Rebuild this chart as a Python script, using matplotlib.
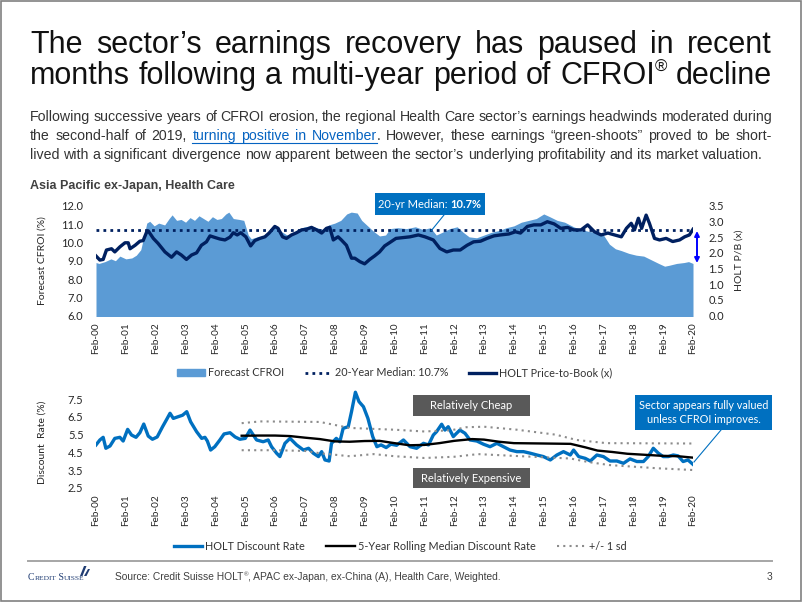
import numpy as np
import matplotlib
matplotlib.use('Agg')
import matplotlib.pyplot as plt
from matplotlib import font_manager
from matplotlib.lines import Line2D
from matplotlib.patches import Patch, Rectangle, Polygon

# x values are years since Feb-2000
tick_labels = ['Feb-00', 'Feb-01', 'Feb-02', 'Feb-03', 'Feb-04', 'Feb-05', 'Feb-06',
               'Feb-07', 'Feb-08', 'Feb-09', 'Feb-10', 'Feb-11', 'Feb-12', 'Feb-13',
               'Feb-14', 'Feb-15', 'Feb-16', 'Feb-17', 'Feb-18', 'Feb-19', 'Feb-20']

cfroi_years = [0.0, 0.1, 0.3, 0.5, 0.65, 0.8, 1.0, 1.2, 1.35, 1.5, 1.6, 1.7, 1.8, 1.95,
               2.1, 2.3, 2.45, 2.55, 2.7, 2.85, 3.0, 3.15, 3.3, 3.45, 3.6, 3.75, 3.9,
               4.05, 4.2, 4.35, 4.45, 4.6, 4.8, 4.95, 5.1, 5.2, 5.4, 5.6, 5.8, 6.0,
               6.2, 6.4, 6.6, 6.8, 7.0, 7.2, 7.4, 7.6, 7.8, 8.0, 8.2, 8.4, 8.55, 8.75,
               8.9, 9.1, 9.3, 9.5, 9.7, 9.85, 10.1, 10.4, 10.7, 10.95, 11.2, 11.4,
               11.6, 11.85, 12.1, 12.3, 12.5, 12.75, 13.0, 13.25, 13.5, 13.75, 14.0,
               14.25, 14.5, 14.75, 15.0, 15.2, 15.45, 15.7, 16.0, 16.25, 16.5, 16.75,
               17.0, 17.2, 17.4, 17.6, 17.85, 18.1, 18.35, 18.6, 18.85, 19.05, 19.2,
               19.45, 19.7, 19.85, 20.0]
cfroi_values = [8.9, 8.85, 8.95, 9.1, 9.0, 9.25, 9.1, 9.15, 9.3, 9.6, 10.3, 11.05, 11.15,
                10.9, 11.05, 10.95, 11.3, 11.5, 11.2, 11.25, 11.1, 11.35, 11.2, 11.45,
                11.3, 11.15, 11.4, 11.25, 11.3, 11.55, 11.65, 11.3, 11.25, 11.2, 10.4,
                10.2, 10.3, 10.35, 10.55, 10.9, 10.6, 10.4, 10.5, 10.75, 10.85, 10.9,
                10.8, 10.7, 10.95, 11.05, 11.2, 11.55, 11.65, 11.6, 11.2, 10.9, 10.6,
                10.35, 10.4, 10.75, 10.8, 10.75, 10.85, 10.7, 10.8, 10.4, 10.55, 10.75,
                10.85, 10.55, 10.3, 10.25, 10.4, 10.55, 10.65, 10.8, 10.9, 11.1, 11.2,
                11.3, 11.55, 11.4, 11.2, 11.1, 10.85, 10.7, 10.6, 10.55, 10.4, 9.9,
                9.65, 9.55, 9.4, 9.3, 9.25, 9.05, 8.85, 8.7, 8.75, 8.85, 8.9, 8.95, 8.85]

pb_years = [0.0, 0.13, 0.24, 0.35, 0.52, 0.63, 0.8, 0.97, 1.08, 1.14, 1.31, 1.47, 1.58,
            1.7, 1.75, 1.92, 2.08, 2.31, 2.53, 2.7, 2.86, 3.03, 3.2, 3.37, 3.53, 3.7,
            3.82, 3.98, 4.15, 4.32, 4.49, 4.6, 4.73, 4.85, 5.02, 5.18, 5.32, 5.49,
            5.66, 5.8, 5.99, 6.1, 6.25, 6.38, 6.55, 6.72, 6.89, 7.05, 7.22, 7.39,
            7.56, 7.72, 7.83, 7.95, 8.11, 8.22, 8.39, 8.56, 8.67, 8.84, 9.0, 9.17,
            9.33, 9.5, 9.67, 9.83, 10.05, 10.52, 10.8, 11.02, 11.3, 11.52, 11.75,
            11.97, 12.2, 12.43, 12.65, 12.88, 13.1, 13.33, 13.55, 13.83, 14.05, 14.22,
            14.45, 14.67, 14.9, 15.12, 15.35, 15.57, 15.8, 16.0, 16.25, 16.47, 16.7,
            16.92, 17.15, 17.37, 17.6, 17.77, 17.93, 18.04, 18.17, 18.28, 18.43,
            18.54, 18.71, 18.88, 19.1, 19.32, 19.55, 19.72, 19.88, 20.0]
pb_values = [1.90, 1.77, 1.79, 2.09, 2.13, 2.03, 2.19, 2.32, 2.32, 2.13, 2.24, 2.37, 2.39,
             2.67, 2.70, 2.46, 2.30, 2.03, 1.86, 2.03, 1.93, 1.79, 1.93, 2.00, 2.24, 2.35,
             2.54, 2.49, 2.44, 2.41, 2.50, 2.64, 2.57, 2.64, 2.51, 2.22, 2.39, 2.46,
             2.51, 2.63, 2.84, 2.78, 2.51, 2.46, 2.57, 2.64, 2.73, 2.75, 2.81, 2.73,
             2.63, 2.78, 2.81, 2.41, 2.51, 2.41, 2.24, 1.83, 1.83, 1.72, 1.65, 1.79,
             1.90, 2.03, 2.22, 2.32, 2.46, 2.51, 2.57, 2.51, 2.41, 2.14, 2.03, 2.09,
             2.09, 2.24, 2.35, 2.37, 2.46, 2.54, 2.57, 2.60, 2.67, 2.63, 2.84, 2.89,
             2.89, 2.99, 2.92, 2.78, 2.81, 2.73, 2.73, 2.89, 2.67, 2.57, 2.63, 2.57,
             2.51, 2.78, 2.94, 2.73, 3.10, 2.78, 3.20, 2.94, 2.46, 2.41, 2.46, 2.36,
             2.41, 2.51, 2.57, 2.75]

median_cfroi = 10.7

dr_years = [0.0, 0.13, 0.24, 0.33, 0.47, 0.63, 0.8, 0.91, 1.06, 1.19, 1.34, 1.47, 1.6,
            1.75, 1.89, 2.05, 2.23, 2.37, 2.48, 2.59, 2.76, 2.9, 3.04, 3.17, 3.37,
            3.54, 3.65, 3.73, 3.84, 3.98, 4.15, 4.29, 4.49, 4.66, 4.82, 5.0, 5.16,
            5.38, 5.6, 5.77, 5.88, 6.05, 6.16, 6.33, 6.5, 6.72, 6.95, 7.12, 7.28,
            7.45, 7.56, 7.67, 7.81, 7.89, 8.05, 8.17, 8.28, 8.45, 8.56, 8.69, 8.81,
            8.96, 9.11, 9.27, 9.41, 9.55, 9.72, 9.88, 10.07, 10.3, 10.52, 10.74,
            10.97, 11.14, 11.3, 11.41, 11.58, 11.69, 11.8, 11.97, 12.08, 12.19, 12.36,
            12.53, 12.76, 12.98, 13.2, 13.43, 13.65, 13.87, 14.1, 14.32, 14.55, 14.77,
            14.99, 15.22, 15.44, 15.66, 15.89, 16.0, 16.17, 16.39, 16.56, 16.78, 17.0,
            17.22, 17.45, 17.67, 17.89, 18.12, 18.34, 18.5, 18.67, 18.84, 19.0, 19.17,
            19.34, 19.5, 19.67, 19.83, 20.0]
dr_values = [4.92, 5.20, 5.35, 4.73, 4.86, 5.29, 5.35, 5.14, 5.80, 5.48, 5.35, 5.61, 6.10,
             5.42, 5.24, 5.37, 5.95, 6.37, 6.71, 6.42, 6.52, 6.60, 6.80, 6.23, 5.67,
             5.29, 5.35, 5.14, 4.63, 4.82, 5.20, 5.54, 5.61, 5.37, 5.24, 5.29, 5.76,
             5.20, 5.10, 5.20, 4.82, 4.45, 4.26, 5.01, 5.29, 4.92, 4.63, 4.73, 4.45,
             4.26, 4.54, 4.07, 4.01, 5.01, 5.29, 5.10, 5.86, 5.95, 6.80, 7.90, 7.37,
             7.08, 6.42, 5.39, 4.82, 4.92, 4.77, 4.96, 4.90, 5.20, 4.82, 4.73, 5.01,
             4.92, 5.48, 5.67, 6.09, 5.76, 5.95, 5.39, 5.58, 5.76, 5.58, 5.20, 5.14,
             4.96, 4.82, 5.01, 4.82, 4.63, 4.54, 4.54, 4.45, 4.35, 4.26, 4.07, 4.35,
             4.54, 4.35, 4.63, 4.26, 4.16, 4.01, 4.35, 4.26, 4.01, 4.01, 3.88, 4.13,
             3.98, 3.98, 4.26, 4.73, 4.45, 4.26, 4.26, 4.35, 4.30, 3.98, 4.07, 3.82]

rolling_years = [4.88, 5.5, 6.0, 6.5, 7.0, 7.5, 8.0, 8.5, 9.0, 9.5, 10.0, 10.5, 11.0,
                 11.5, 12.0, 12.6, 13.0, 13.5, 14.0, 15.0, 15.9, 16.4, 16.8, 17.3,
                 17.8, 18.5, 19.0, 19.5, 20.0]
rolling_values = [5.44, 5.45, 5.45, 5.42, 5.33, 5.25, 5.12, 5.10, 5.14, 5.15, 5.02, 4.90,
                  4.92, 5.02, 5.15, 5.25, 5.22, 5.10, 5.02, 5.00, 4.98, 4.78, 4.60, 4.52,
                  4.42, 4.35, 4.30, 4.28, 4.20]

upper_years = [4.88, 5.5, 7.5, 8.5, 10.0, 11.0, 11.9, 12.4, 13.0, 14.1, 15.4, 16.1, 17.1, 20.0]
upper_values = [6.15, 6.25, 6.22, 5.88, 5.78, 5.68, 5.75, 5.92, 5.95, 5.78, 5.50, 5.20, 5.02, 5.00]
lower_years = [4.88, 6.0, 7.0, 7.5, 8.5, 9.3, 10.0, 11.0, 12.0, 12.8, 14.0, 15.9, 16.5, 17.2, 18.8, 20.0]
lower_values = [4.62, 4.62, 4.58, 4.45, 4.28, 4.40, 4.28, 4.18, 4.25, 4.40, 4.30, 4.15, 3.95, 3.78, 3.60, 3.50]

W, H = 802, 602
names = {f.name for f in font_manager.fontManager.ttflist}
if 'Liberation Sans Narrow' in names:
    SLIDE = 'Liberation Sans Narrow'
    title_size, para_size, foot_size = 24, 11.3, 8.5
else:
    SLIDE = 'Liberation Sans'
    title_size, para_size, foot_size = 22, 10.2, 7.4
CHART = 'Lato' if 'Lato' in names else 'DejaVu Sans'
plt.rcParams['font.family'] = CHART

fig = plt.figure(figsize=(W / 100, H / 100), dpi=100)
renderer = fig.canvas.get_renderer()


def raw_w(s, kw):
    t = fig.text(0, 0, s, **kw)
    w = t.get_window_extent(renderer).width
    t.remove()
    return w


def run_w(s, kw):
    return raw_w('|' + s + '|', kw) - raw_w('||', kw)


def split_style(base, st):
    st = dict(st)
    dy = st.pop('dy', 0)
    return dict(base, **st), dy


def place_runs(runs, x, y, base):
    for s, st in runs:
        kw, dy = split_style(base, st)
        fig.text(x / W, 1 - (y + dy) / H, s, ha='left', va='baseline', **kw)
        x += run_w(s, kw)
    return x


def word_w(runs, base):
    return sum(run_w(s, split_style(base, st)[0]) for s, st in runs)


def justify(words, x0, x1, y, base):
    words = [[(w, {})] if isinstance(w, str) else w for w in words]
    widths = [word_w(w, base) for w in words]
    gap = (x1 - x0 - sum(widths)) / (len(words) - 1)
    spans = []
    x = x0
    for w, wd in zip(words, widths):
        place_runs(w, x, y, base)
        spans.append((x, x + wd))
        x += wd + gap
    return spans


def px_line(xs, ys, **kw):
    fig.add_artist(Line2D([x / W for x in xs], [1 - y / H for y in ys],
                          transform=fig.transFigure, **kw))


def px_box(x0, y0, x1, y1, color):
    fig.add_artist(Rectangle((x0 / W, 1 - y1 / H), (x1 - x0) / W, (y1 - y0) / H,
                             transform=fig.transFigure, color=color, lw=0))


# slide frame
fig.add_artist(Rectangle((0.001, 0.001), 0.998, 0.997, transform=fig.transFigure,
                         fill=False, ec='#808080', lw=1.2))

# title
tbase = dict(family=SLIDE, fontsize=title_size, color='#111111')
justify('The sector’s earnings recovery has paused in recent'.split(), 30, 772, 53, tbase)
justify(['months', 'following', 'a', 'multi-year', 'period', 'of',
         [('CFROI', {}), ('®', {'fontsize': title_size * 0.55, 'dy': -12})], 'decline'],
        30, 772, 84, tbase)

# paragraph
pbase = dict(family=SLIDE, fontsize=para_size, color='#333333')
link = {'color': '#0563C1'}
justify('Following successive years of CFROI erosion, the regional Health Care sector’s '
        'earnings headwinds moderated during'.split(), 30, 772, 121, pbase)
line2 = (['the', 'second-half', 'of', '2019,'] +
         [[('turning', link)], [('positive', link)], [('in', link)],
          [('November', link), ('.', {})]] +
         'However, these earnings “green-shoots” proved to be short-'.split())
spans = justify(line2, 30, 772, 140, pbase)
und_end = spans[7][0] + run_w('November', dict(pbase, **link))
px_line([spans[4][0], und_end], [142.5, 142.5], color='#0563C1', lw=0.8)
justify('lived with a significant divergence now apparent between the sector’s underlying '
        'profitability and its market valuation.'.split(), 30, 763, 159, pbase)

fig.text(30 / W, 1 - 189 / H, 'Asia Pacific ex-Japan, Health Care', family='Liberation Sans',
         fontsize=9, fontweight='bold', color='#404040', va='baseline')

tick_color = '#262626'
lab_size = 7.5

# top chart
ax1 = fig.add_axes([96 / W, 1 - 315.7 / H, 597 / W, 110 / H])
ax1.fill_between(cfroi_years, 0, cfroi_values, color='#5B9BD5', lw=0, label='Forecast CFROI')
ax1.axhline(median_cfroi, color='#002060', lw=2, ls=(0, (1, 1.5)),
            label='20-Year Median: 10.7%')
ax1.set_xlim(0, 20)
ax1.set_ylim(6, 12)
ax1.set_yticks(np.arange(6, 12.01, 1.0))
ax1.set_yticklabels(['%.1f' % v for v in np.arange(6, 12.01, 1.0)])
ax2 = ax1.twinx()
ax2.plot(pb_years, pb_values, color='#002060', lw=2.4, solid_joinstyle='round',
         label='HOLT Price-to-Book (x)')
ax2.set_ylim(0, 3.5)
ax2.set_yticks(np.arange(0, 3.51, 0.5))
ax2.set_yticklabels(['%.1f' % v for v in np.arange(0, 3.51, 0.5)])

# bottom chart
ax3 = fig.add_axes([96 / W, 1 - 487.7 / H, 597 / W, 99 / H])
ax3.plot(dr_years, dr_values, color='#0070C0', lw=2.4, solid_joinstyle='round', zorder=2)
ax3.plot(rolling_years, rolling_values, color='black', lw=1.7, zorder=3)
ax3.plot(upper_years, upper_values, color='#8C8C8C', lw=1.5, ls=(0, (1, 2)), zorder=3)
ax3.plot(lower_years, lower_values, color='#8C8C8C', lw=1.5, ls=(0, (1, 2)), zorder=3)
ax3.set_xlim(0, 20)
ax3.set_ylim(2.5, 8.1)
ax3.set_yticks(np.arange(2.5, 7.51, 1.0))
ax3.set_yticklabels(['%.1f' % v for v in np.arange(2.5, 7.51, 1.0)])

for ax in (ax1, ax2, ax3):
    for sp in ax.spines.values():
        sp.set_visible(False)
    ax.tick_params(length=0, labelsize=8, labelcolor=tick_color)
for ax in (ax1, ax3):
    ax.set_xticks(range(21))
    ax.set_xticklabels(tick_labels, rotation=90, va='top', ha='center', fontsize=7.2)
    ax.tick_params(axis='y', pad=9)
    ax.tick_params(axis='x', pad=5)
ax2.tick_params(axis='y', pad=11)

ax1.set_ylabel('Forecast CFROI (%)', fontsize=lab_size, color=tick_color)
ax1.yaxis.set_label_coords((47 - 96) / 597, 0.5)
ax2.set_ylabel('HOLT P/B (x)', fontsize=lab_size, color=tick_color)
ax2.yaxis.set_label_coords((735 - 96) / 597, 0.5)
ax3.set_ylabel('Discount  Rate (%)', fontsize=lab_size, color=tick_color)
ax3.yaxis.set_label_coords((47 - 96) / 597, 0.46)

# legends
lkw = dict(frameon=False, fontsize=7.8, ncol=3, handletextpad=0.3, borderpad=0,
           labelcolor='#333333', bbox_transform=fig.transFigure, loc='center')
ax2.legend(handles=[Patch(color='#5B9BD5', label='Forecast CFROI'),
                    Line2D([], [], color='#002060', lw=2, ls=(0, (1, 1.5)),
                           label='20-Year Median: 10.7%'),
                    Line2D([], [], color='#002060', lw=2.4, label='HOLT Price-to-Book (x)')],
           bbox_to_anchor=(395 / W, 1 - 373 / H), handlelength=2.5, handleheight=0.65,
           columnspacing=1.9, **lkw)
ax3.legend(handles=[Line2D([], [], color='#0070C0', lw=2.4, label='HOLT Discount Rate'),
                    Line2D([], [], color='black', lw=1.7,
                           label='5-Year Rolling Median Discount Rate'),
                    Line2D([], [], color='#8C8C8C', lw=1.5, ls=(0, (1, 2)), label='+/- 1 sd')],
           bbox_to_anchor=(400 / W, 1 - 546 / H), handlelength=2.6, columnspacing=2.0, **lkw)

# annotations top chart
px_box(375, 193, 485, 215, '#0070C0')
ab = dict(family=CHART, fontsize=8, color='white')
w_all = run_w('20-yr Median: ', ab) + run_w('10.7%', dict(ab, fontweight='bold'))
place_runs([('20-yr Median: ', {}), ('10.7%', {'fontweight': 'bold'})],
           430 - w_all / 2, 207.5, ab)
px_line([444, 431], [215, 231], color='#0070C0', lw=0.8)
ax1.annotate('', xy=(697 / W, 1 - 263 / H), xytext=(697 / W, 1 - 231 / H),
             xycoords='figure fraction', textcoords='figure fraction',
             arrowprops=dict(arrowstyle='<|-|>', color='#0000FF', lw=1.4,
                             mutation_scale=7, shrinkA=0, shrinkB=0))

# annotations bottom chart
px_box(413, 395, 530, 416, '#595959')
fig.text(471.5 / W, 1 - 405.5 / H, 'Relatively Cheap', color='white', fontsize=8,
         ha='center', va='center')
px_box(413, 468, 530, 488, '#595959')
fig.text(471.5 / W, 1 - 478 / H, 'Relatively Expensive', color='white', fontsize=8,
         ha='center', va='center')
px_box(635, 395, 772, 430, '#0070C0')
fig.text(703.5 / W, 1 - 412.5 / H, 'Sector appears fully valued\nunless CFROI improves.',
         color='white', fontsize=7.8, ha='center', va='center', linespacing=1.25)
px_line([721, 694], [430, 462], color='#0070C0', lw=0.8)

# footer
px_line([28, 772], [561, 561], color='#A6A6A6', lw=1.4)
lbase = dict(family='Liberation Serif', color='#1F3C73')
place_runs([('C', {'fontsize': 7}), ('REDIT', {'fontsize': 5.4}), (' S', {'fontsize': 7}),
            ('UISSE', {'fontsize': 5.4})], 28, 580, lbase)
for pts in ([(80, 576), (84, 566), (86.5, 566), (82.5, 576)],
            [(84, 576), (88, 569), (90, 569), (86.5, 576)]):
    fig.add_artist(Polygon([(x / W, 1 - y / H) for x, y in pts], closed=True,
                           transform=fig.transFigure, color='#1F3C73', lw=0))
fbase = dict(family=SLIDE, fontsize=foot_size, color='#404040')
place_runs([('Source: Credit Suisse HOLT', {}), ('®', {'fontsize': foot_size * 0.6, 'dy': -4}),
            (', APAC ex-Japan, ex-China (A), Health Care, Weighted.', {})], 115, 580, fbase)
fig.text(772 / W, 1 - 580 / H, '3', ha='right', va='baseline', **fbase)

fig.savefig('out.png', dpi=100)
